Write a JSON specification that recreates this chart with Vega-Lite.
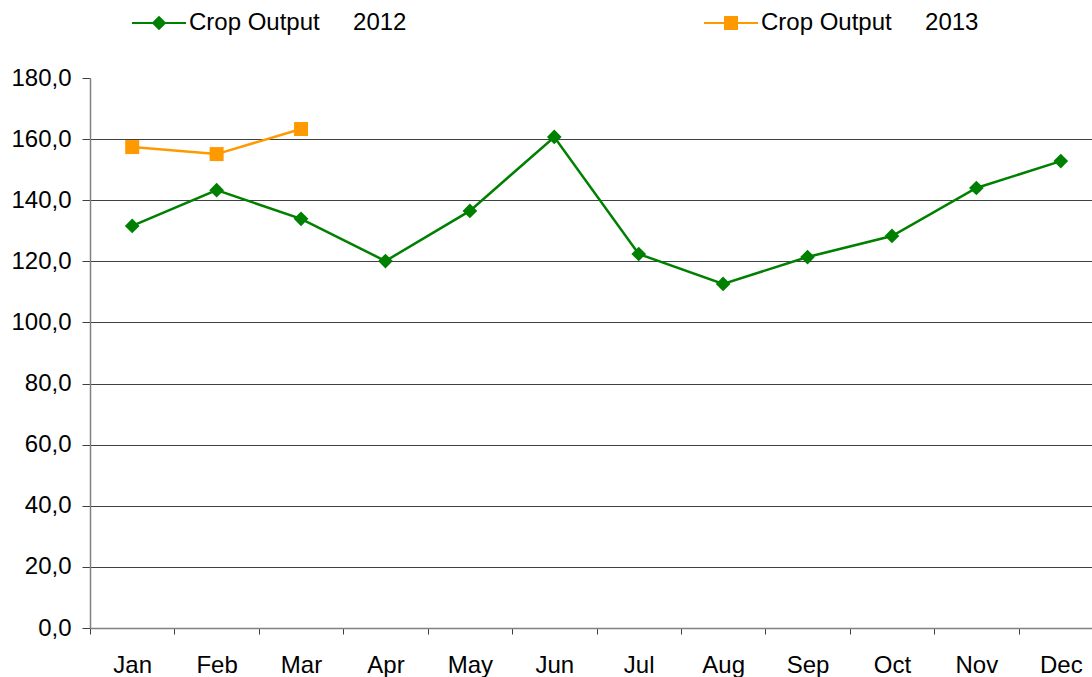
{
  "$schema": "https://vega.github.io/schema/vega-lite/v6.json",
  "width": 1002,
  "height": 550,
  "autosize": {"type": "none"},
  "padding": {"left": 90, "top": 78, "right": 0, "bottom": 49},
  "background": "white",
  "config": {"view": {"stroke": null}},
  "data": {
    "values": [
      {"month": "Jan", "year": "2012", "value": 131.6},
      {"month": "Feb", "year": "2012", "value": 143.3},
      {"month": "Mar", "year": "2012", "value": 133.9},
      {"month": "Apr", "year": "2012", "value": 120.1},
      {"month": "May", "year": "2012", "value": 136.5},
      {"month": "Jun", "year": "2012", "value": 160.7},
      {"month": "Jul", "year": "2012", "value": 122.4},
      {"month": "Aug", "year": "2012", "value": 112.6},
      {"month": "Sep", "year": "2012", "value": 121.4},
      {"month": "Oct", "year": "2012", "value": 128.3},
      {"month": "Nov", "year": "2012", "value": 144.0},
      {"month": "Dec", "year": "2012", "value": 152.8},
      {"month": "Jan", "year": "2013", "value": 157.4},
      {"month": "Feb", "year": "2013", "value": 155.1},
      {"month": "Mar", "year": "2013", "value": 163.3}
    ]
  },
  "encoding": {
    "x": {
      "field": "month",
      "type": "ordinal",
      "sort": ["Jan","Feb","Mar","Apr","May","Jun","Jul","Aug","Sep","Oct","Nov","Dec"],
      "bandPosition": 0.5,
      "scale": {"type": "band", "paddingInner": 0, "paddingOuter": 0, "range": [0, 1013]},
      "axis": {
        "title": null,
        "tickBand": "extent",
        "labelAngle": 0,
        "labelFont": "Liberation Sans",
        "labelFontSize": 24,
        "labelColor": "#000000",
        "labelPadding": 19,
        "tickSize": 6,
        "tickColor": "#404040",
        "domainColor": "#808080",
        "domainWidth": 1.5,
        "grid": false
      }
    },
    "y": {
      "field": "value",
      "type": "quantitative",
      "scale": {"domain": [0, 180], "nice": false, "zero": true},
      "axis": {
        "title": null,
        "values": [0, 20, 40, 60, 80, 100, 120, 140, 160, 180],
        "labelExpr": "replace(format(datum.value, '.1f'), '.', ',')",
        "labelFont": "Liberation Sans",
        "labelFontSize": 24,
        "labelColor": "#000000",
        "labelPadding": 11,
        "tickSize": 8,
        "tickColor": "#404040",
        "domainColor": "#808080",
        "domainWidth": 1.5,
        "grid": true,
        "gridColor": "#404040",
        "gridWidth": 1,
        "gridOpacity": {"condition": {"test": "datum.value >= 180 || datum.value <= 0", "value": 0}, "value": 1}
      }
    }
  },
  "layer": [
    {
      "mark": {"type": "line", "strokeWidth": 2.5},
      "encoding": {
        "color": {
          "field": "year",
          "type": "nominal",
          "scale": {"domain": ["2012", "2013"], "range": ["#008000", "#FF9900"]},
          "legend": {
            "title": null,
            "orient": "none",
            "legendX": 42,
            "legendY": -82,
            "direction": "horizontal",
            "columnPadding": 297,
            "padding": 0,
            "symbolType": "M-1,-0.04H1V0.04H-1Z",
            "symbolSize": 2916,
            "symbolStrokeWidth": 0,
            "labelFont": "Liberation Sans",
            "labelFontSize": 24,
            "labelColor": "#000000",
            "labelOffset": 3,
            "labelLimit": 0,
            "labelExpr": "'Crop Output\u00a0\u00a0\u00a0\u00a0\u00a0' + datum.label",
            "encode": {
              "symbols": {
                "update": {
                  "shape": {"signal": "datum.value == '2012' ? 'M-1,-0.04H1V0.04H-1ZM-0.27,0L0,-0.27L0.27,0L0,0.27Z' : 'M-1,-0.04H1V0.04H-1ZM-0.26,-0.26H0.26V0.26H-0.26Z'"},
                  "fill": {"signal": "datum.value == '2012' ? '#008000' : '#FF9900'"},
                  "stroke": {"signal": "datum.value == '2012' ? '#008000' : '#FF9900'"},
                  "strokeWidth": {"value": 0},
                  "fillOpacity": {"value": 1},
                  "opacity": {"value": 1}
                }
              }
            }
          }
        }
      }
    },
    {
      "transform": [{"filter": "datum.year == '2012'"}],
      "mark": {"type": "point", "filled": true, "opacity": 1, "shape": "diamond", "size": 216, "color": "#008000"}
    },
    {
      "transform": [{"filter": "datum.year == '2013'"}],
      "mark": {"type": "point", "filled": true, "opacity": 1, "shape": "square", "size": 196, "color": "#FF9900"}
    }
  ]
}
